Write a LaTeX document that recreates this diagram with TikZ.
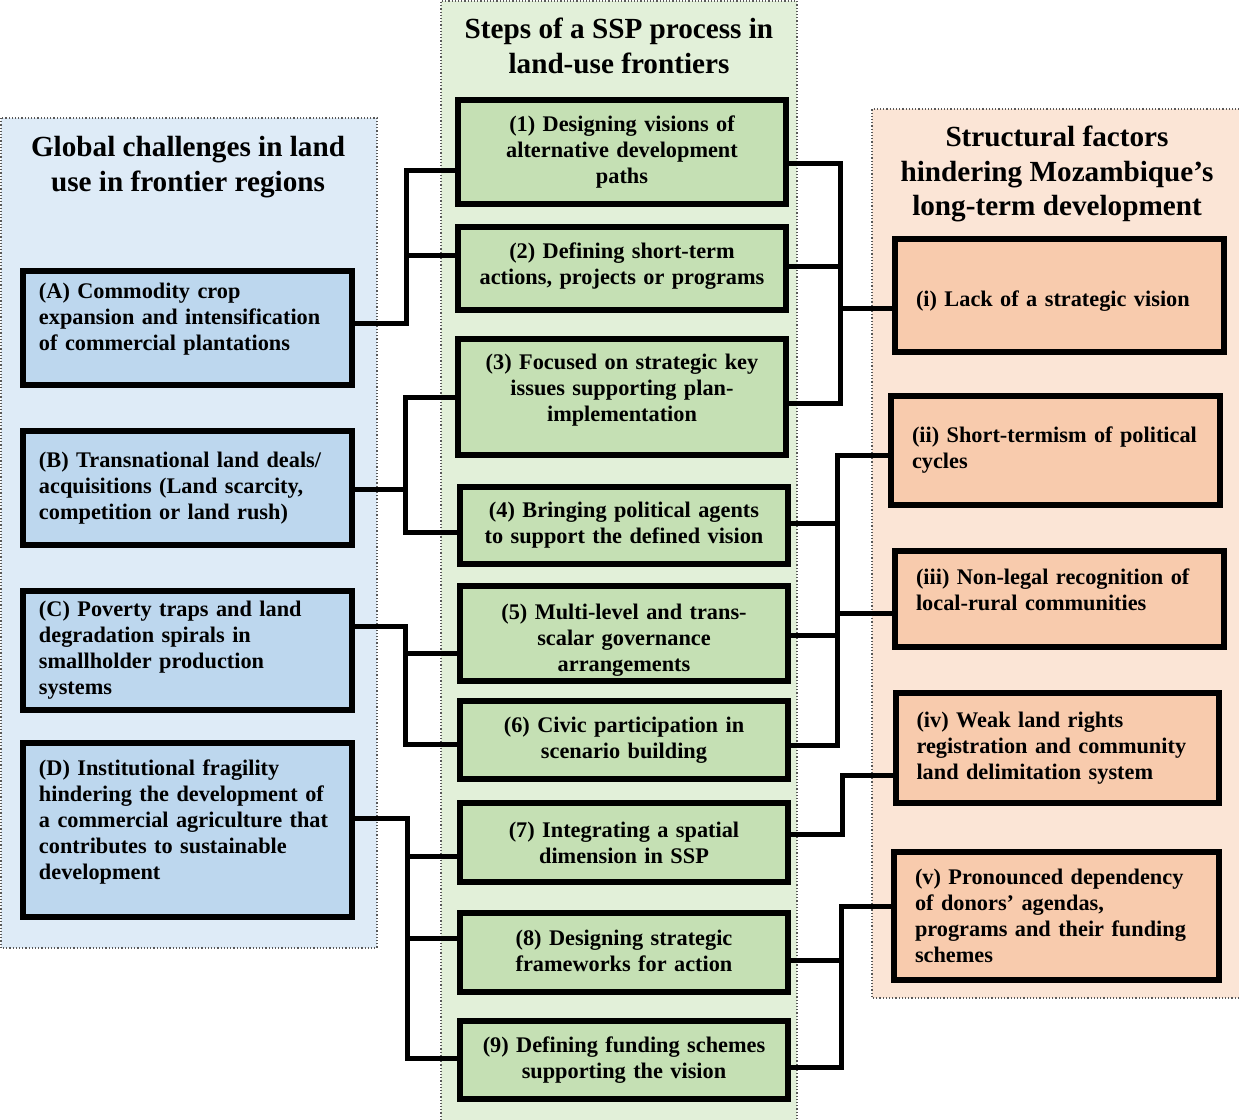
\documentclass[tikz,border=0pt]{standalone}
\usepackage{fontspec}
\setmainfont{Liberation Serif}
\usepackage{tikz}
\usetikzlibrary{positioning}
\definecolor{bluepanel}{HTML}{DEEBF7}
\definecolor{bluebox}{HTML}{BDD7EE}
\definecolor{greenpanel}{HTML}{E2F0D9}
\definecolor{greenbox}{HTML}{C5E0B4}
\definecolor{orangepanel}{HTML}{FBE5D6}
\definecolor{orangebox}{HTML}{F8CBAD}
\newcommand{\boxfont}{\fontsize{11.15}{13}\selectfont\bfseries}
\newcommand{\headfont}{\fontsize{14.6}{17.2}\selectfont\bfseries}
% extra space under / above the lines of a box
\newcommand{\padbelow}[1]{\par\kern#1}
\newcommand{\padabove}[1]{\rule{0pt}{\dimexpr 8pt+#1\relax}}

\begin{document}
\begin{tikzpicture}[x=0.5pt, y=-0.5pt,
                    panel/.style={densely dotted, line width=0.6pt, black!65},
                    heading/.style={align=center, font=\headfont, inner sep=0pt},
                    chbox/.style={draw, line width=3pt, fill=bluebox, align=left, font=\boxfont, inner xsep=8pt, inner ysep=0pt, text width=148.5pt},
                    stbox/.style={draw, line width=3pt, fill=greenbox, align=center, font=\boxfont, inner xsep=4pt, inner ysep=0pt, text width=156pt},
                    fabox/.style={draw, line width=3pt, fill=orangebox, align=left, font=\boxfont, inner xsep=10.5pt, inner ysep=0pt},
                    link/.style={line width=2.5pt, black},
                   ]
\useasboundingbox (0,0) rectangle (1239,1120);

% background panels
\fill[bluepanel] (1,118) rectangle (377,948);
\draw[panel] (1,118) rectangle (377,948);
\fill[greenpanel] (441,1) rectangle (797,1120);
\draw[panel] (441,1120) -- (441,1) -- (797,1) -- (797,1120);
\fill[orangepanel] (872,109) rectangle (1239,998);
\draw[panel] (1239,998) -- (872,998) -- (872,109) -- (1239,109);

\node[heading] (tl) at (188,167) {Global challenges in land\\use in frontier regions};
\node[heading] (tm) at (619,46) {Steps of a SSP process in\\land-use frontiers};
\node[heading] (tr) at (1057,174) {Structural factors\\hindering Mozambique’s\\long-term development};

% left column
\node[chbox, minimum height=57pt] (cA) at (187.5,328) {(A) Commodity crop\\expansion and intensification\\of commercial plantations\padbelow{9pt}};
\node[chbox, minimum height=57pt] (cB) at (187.5,488) {(B) Transnational land deals/\\acquisitions (Land scarcity,\\competition or land rush)};
\node[chbox, minimum height=59.5pt] (cC) at (187.5,650.5) {(C) Poverty traps and land\\degradation spirals in\\smallholder production\\systems};
\node[chbox, minimum height=87pt] (cD) at (187.5,830) {(D) Institutional fragility\\hindering the development of\\a commercial agriculture that\\contributes to sustainable\\development\padbelow{7.5pt}};

% middle column
\node[stbox, minimum height=52pt] (s1) at (622,152) {(1) Designing visions of\\alternative development\\paths};
\node[stbox, minimum height=41.5pt] (s2) at (622,268.5) {(2) Defining short-term\\actions, projects or programs\padbelow{2pt}};
\node[stbox, minimum height=58pt] (s3) at (622,397) {(3) Focused on strategic key\\issues supporting plan-\\implementation\padbelow{6.5pt}};
\node[stbox, minimum height=38.5pt] (s4) at (624,525.5) {(4) Bringing political agents\\to support the defined vision};
\node[stbox, minimum height=47.5pt] (s5) at (624,633.5) {\padabove{6pt}(5) Multi-level and trans-\\scalar governance\\arrangements};
\node[stbox, minimum height=39pt] (s6) at (624,740) {(6) Civic participation in\\scenario building};
\node[stbox, minimum height=39.5pt] (s7) at (624,842.5) {(7) Integrating a spatial\\dimension in SSP};
\node[stbox, minimum height=39.5pt] (s8) at (624,952.5) {(8) Designing strategic\\frameworks for action\padbelow{2pt}};
\node[stbox, minimum height=39pt] (s9) at (624,1060) {(9) Defining funding schemes\\supporting the vision};

% right column
\node[fabox, text width=143.5pt, minimum height=56.5pt] (f1) at (1059.5,295.5) {\padabove{5pt}(i) Lack of a strategic vision};
\node[fabox, text width=143.5pt, minimum height=54.5pt] (f2) at (1055.5,450.5) {\mbox{(ii) Short-termism of political}\\cycles};
\node[fabox, text width=143.5pt, minimum height=48pt] (f3) at (1059.5,599) {(iii) Non-legal recognition of\\local-rural communities\padbelow{9pt}};
\node[fabox, text width=140.5pt, minimum height=55pt] (f4) at (1057,748) {(iv) Weak land rights\\registration and community\\land delimitation system};
\node[fabox, text width=141.5pt, minimum height=64pt] (f5) at (1056.5,916) {(v) Pronounced dependency\\of donors’ agendas,\\programs and their funding\\schemes};

% left connectors
\coordinate (jA) at (406,323);
\coordinate (j1) at (406,170);
\coordinate (j2) at (406,255);
\draw[link] (jA -| cA.east) -- (jA) -- (j1) -- (j1 -| s1.west);
\draw[link] (j2) -- (j2 -| s2.west);

\coordinate (jB) at (405,489);
\coordinate (j3) at (405,397);
\coordinate (j4) at (405,532);
\draw[link] (jB -| cB.east) -- (jB);
\draw[link] (j3 -| s3.west) -- (j3) -- (j4) -- (j4 -| s4.west);

\coordinate (jC) at (405,626);
\coordinate (j5) at (405,653);
\coordinate (j6) at (405,744);
\draw[link] (jC -| cC.east) -- (jC) -- (j6) -- (j6 -| s6.west);
\draw[link] (j5) -- (j5 -| s5.west);

\coordinate (jD) at (407,818);
\coordinate (j7) at (407,856);
\coordinate (j8) at (407,938);
\coordinate (j9) at (407,1058);
\draw[link] (jD -| cD.east) -- (jD) -- (j9) -- (j9 -| s9.west);
\draw[link] (j7) -- (j7 -| s7.west);
\draw[link] (j8) -- (j8 -| s8.west);

% right connectors
\coordinate (k1) at (840,163);
\coordinate (k2) at (840,266);
\coordinate (k3) at (840,403);
\coordinate (ki) at (840,308);
\draw[link] (k1 -| s1.east) -- (k1) -- (k3) -- (k3 -| s3.east);
\draw[link] (k2 -| s2.east) -- (k2);
\draw[link] (ki) -- (ki -| f1.west);

\coordinate (kii) at (837,455);
\coordinate (kiii) at (837,613);
\coordinate (k4) at (837,523);
\coordinate (k5) at (837,635);
\coordinate (k6) at (837,745);
\draw[link] (kii -| f2.west) -- (kii) -- (k6) -- (k6 -| s6.east);
\draw[link] (k4 -| s4.east) -- (k4);
\draw[link] (k5 -| s5.east) -- (k5);
\draw[link] (kiii) -- (kiii -| f3.west);

\coordinate (kiv) at (842,775);
\coordinate (k7) at (842,834);
\draw[link] (kiv -| f4.west) -- (kiv) -- (k7) -- (k7 -| s7.east);

\coordinate (kv) at (841,906);
\coordinate (k8) at (841,960);
\coordinate (k9) at (841,1067);
\draw[link] (kv -| f5.west) -- (kv) -- (k9) -- (k9 -| s9.east);
\draw[link] (k8 -| s8.east) -- (k8);

\end{tikzpicture}
\end{document}
